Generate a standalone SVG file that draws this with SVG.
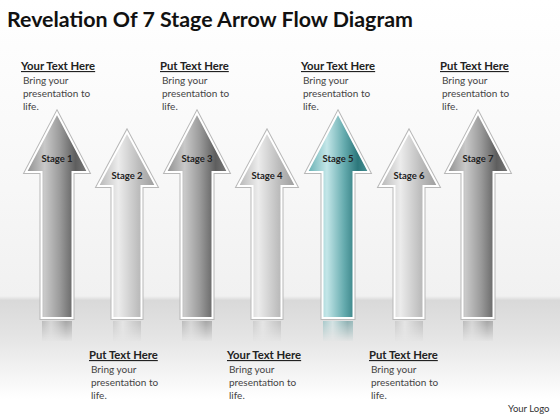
<svg xmlns="http://www.w3.org/2000/svg" width="560" height="420" viewBox="0 0 560 420">
<defs>
<style>
.title{font-family:Lato,"Open Sans","Liberation Sans",sans-serif;font-weight:bold;font-size:20.5px;fill:#111}
.hd{font-family:Lato,"Open Sans","Liberation Sans",sans-serif;font-weight:bold;font-size:11.3px;fill:#222;text-decoration:underline}
.bd{font-family:Lato,"Open Sans","Liberation Sans",sans-serif;font-size:10px;fill:#444}
.st{font-family:Lato,"Open Sans","Liberation Sans",sans-serif;font-weight:bold;font-size:9.5px;fill:#222;text-anchor:middle}
.logo{font-family:Lato,"Open Sans","Liberation Sans",sans-serif;font-size:9.5px;fill:#333}
.edge{fill:none;stroke:#b8b8b8;stroke-width:4;stroke-linejoin:miter}
.rim{stroke:#ffffff;stroke-width:2;stroke-linejoin:miter}
.dark{fill:url(#gDark)}
.light{fill:url(#gLight)}
.teal{fill:url(#gTeal)}
.refl{opacity:0.5}
</style>
<linearGradient id="bg" x1="0" y1="0" x2="0" y2="1">
<stop offset="0" stop-color="#ffffff"/>
<stop offset="0.45" stop-color="#f7f7f7"/>
<stop offset="0.705" stop-color="#f1f1f1"/>
<stop offset="0.715" stop-color="#d9d9d9"/>
<stop offset="0.8" stop-color="#e4e4e4"/>
<stop offset="0.95" stop-color="#ffffff"/>
<stop offset="1" stop-color="#ffffff"/>
</linearGradient>
<linearGradient id="gDark" x1="0" y1="0" x2="1" y2="0">
<stop offset="0" stop-color="#8e8e8e"/>
<stop offset="0.3" stop-color="#c9c9c9"/>
<stop offset="0.55" stop-color="#9a9a9a"/>
<stop offset="0.8" stop-color="#5e5e5e"/>
<stop offset="1" stop-color="#7a7a7a"/>
</linearGradient>
<linearGradient id="gLight" x1="0" y1="0" x2="1" y2="0">
<stop offset="0" stop-color="#b5b5b5"/>
<stop offset="0.35" stop-color="#ececec"/>
<stop offset="0.7" stop-color="#bdbdbd"/>
<stop offset="1" stop-color="#9c9c9c"/>
</linearGradient>
<linearGradient id="gTeal" x1="0" y1="0" x2="1" y2="0">
<stop offset="0" stop-color="#64aeb1"/>
<stop offset="0.32" stop-color="#c3e6e8"/>
<stop offset="0.6" stop-color="#65abae"/>
<stop offset="0.82" stop-color="#2c777b"/>
<stop offset="1" stop-color="#4a9295"/>
</linearGradient>
<linearGradient id="fadeG" gradientUnits="userSpaceOnUse" x1="0" y1="321" x2="0" y2="342">
<stop offset="0" stop-color="#ffffff" stop-opacity="0.9"/>
<stop offset="1" stop-color="#ffffff" stop-opacity="0"/>
</linearGradient>
<mask id="fm" maskUnits="userSpaceOnUse" x="0" y="318" width="560" height="30">
<rect x="0" y="318" width="560" height="30" fill="url(#fadeG)"/>
</mask>
</defs>
<rect x="0" y="0" width="560" height="420" fill="url(#bg)"/>
<text class="title" x="7" y="27" textLength="406" lengthAdjust="spacingAndGlyphs">Revelation Of 7 Stage Arrow Flow Diagram</text>

<g id="arrow1">
<path class="edge" d="M57,113 L88,172 L72.5,172 L72.5,318 L41.5,318 L41.5,172 L26,172 Z"/>
<path class="dark rim" d="M57,113 L88,172 L72.5,172 L72.5,318 L41.5,318 L41.5,172 L26,172 Z"/>
<rect class="dark refl" x="42" y="321" width="30" height="20" mask="url(#fm)"/>
<text class="st" x="57" y="162">Stage 1</text>
</g>
<g id="arrow2">
<path class="edge" d="M127,132 L156,186 L141.5,186 L141.5,318 L112.5,318 L112.5,186 L98,186 Z"/>
<path class="light rim" d="M127,132 L156,186 L141.5,186 L141.5,318 L112.5,318 L112.5,186 L98,186 Z"/>
<rect class="light refl" x="113" y="321" width="28" height="20" mask="url(#fm)"/>
<text class="st" x="127" y="179">Stage 2</text>
</g>
<g id="arrow3">
<path class="edge" d="M197,113 L228,172 L212.5,172 L212.5,318 L181.5,318 L181.5,172 L166,172 Z"/>
<path class="dark rim" d="M197,113 L228,172 L212.5,172 L212.5,318 L181.5,318 L181.5,172 L166,172 Z"/>
<rect class="dark refl" x="182" y="321" width="30" height="20" mask="url(#fm)"/>
<text class="st" x="197" y="162">Stage 3</text>
</g>
<g id="arrow4">
<path class="edge" d="M267,132 L296,186 L281.5,186 L281.5,318 L252.5,318 L252.5,186 L238,186 Z"/>
<path class="light rim" d="M267,132 L296,186 L281.5,186 L281.5,318 L252.5,318 L252.5,186 L238,186 Z"/>
<rect class="light refl" x="253" y="321" width="28" height="20" mask="url(#fm)"/>
<text class="st" x="267" y="179">Stage 4</text>
</g>
<g id="arrow5">
<path class="edge" d="M338,113 L369,172 L353.5,172 L353.5,318 L322.5,318 L322.5,172 L307,172 Z"/>
<path class="teal rim" d="M338,113 L369,172 L353.5,172 L353.5,318 L322.5,318 L322.5,172 L307,172 Z"/>
<rect class="teal refl" x="323" y="321" width="30" height="20" mask="url(#fm)"/>
<text class="st" x="338" y="162">Stage 5</text>
</g>
<g id="arrow6">
<path class="edge" d="M409,132 L438,186 L423.5,186 L423.5,318 L394.5,318 L394.5,186 L380,186 Z"/>
<path class="light rim" d="M409,132 L438,186 L423.5,186 L423.5,318 L394.5,318 L394.5,186 L380,186 Z"/>
<rect class="light refl" x="395" y="321" width="28" height="20" mask="url(#fm)"/>
<text class="st" x="409" y="179">Stage 6</text>
</g>
<g id="arrow7">
<path class="edge" d="M478,113 L509,172 L493.5,172 L493.5,318 L462.5,318 L462.5,172 L447,172 Z"/>
<path class="dark rim" d="M478,113 L509,172 L493.5,172 L493.5,318 L462.5,318 L462.5,172 L447,172 Z"/>
<rect class="dark refl" x="463" y="321" width="30" height="20" mask="url(#fm)"/>
<text class="st" x="478" y="162">Stage 7</text>
</g>

<g id="text1"><text class="hd" x="21" y="70">Your Text Here</text>
<text class="bd" x="23" y="84">Bring your</text><text class="bd" x="23" y="97">presentation to</text><text class="bd" x="23" y="110">life.</text></g>
<g id="text3"><text class="hd" x="160" y="70">Put Text Here</text>
<text class="bd" x="162" y="84">Bring your</text><text class="bd" x="162" y="97">presentation to</text><text class="bd" x="162" y="110">life.</text></g>
<g id="text5"><text class="hd" x="301" y="70">Your Text Here</text>
<text class="bd" x="303" y="84">Bring your</text><text class="bd" x="303" y="97">presentation to</text><text class="bd" x="303" y="110">life.</text></g>
<g id="text7"><text class="hd" x="440" y="70">Put Text Here</text>
<text class="bd" x="442" y="84">Bring your</text><text class="bd" x="442" y="97">presentation to</text><text class="bd" x="442" y="110">life.</text></g>
<g id="text2"><text class="hd" x="89" y="359">Put Text Here</text>
<text class="bd" x="91" y="373">Bring your</text><text class="bd" x="91" y="386">presentation to</text><text class="bd" x="91" y="399">life.</text></g>
<g id="text4"><text class="hd" x="227" y="359">Your Text Here</text>
<text class="bd" x="229" y="373">Bring your</text><text class="bd" x="229" y="386">presentation to</text><text class="bd" x="229" y="399">life.</text></g>
<g id="text6"><text class="hd" x="369" y="359">Put Text Here</text>
<text class="bd" x="371" y="373">Bring your</text><text class="bd" x="371" y="386">presentation to</text><text class="bd" x="371" y="399">life.</text></g>
<text class="logo" x="508" y="412">Your Logo</text>
</svg>
